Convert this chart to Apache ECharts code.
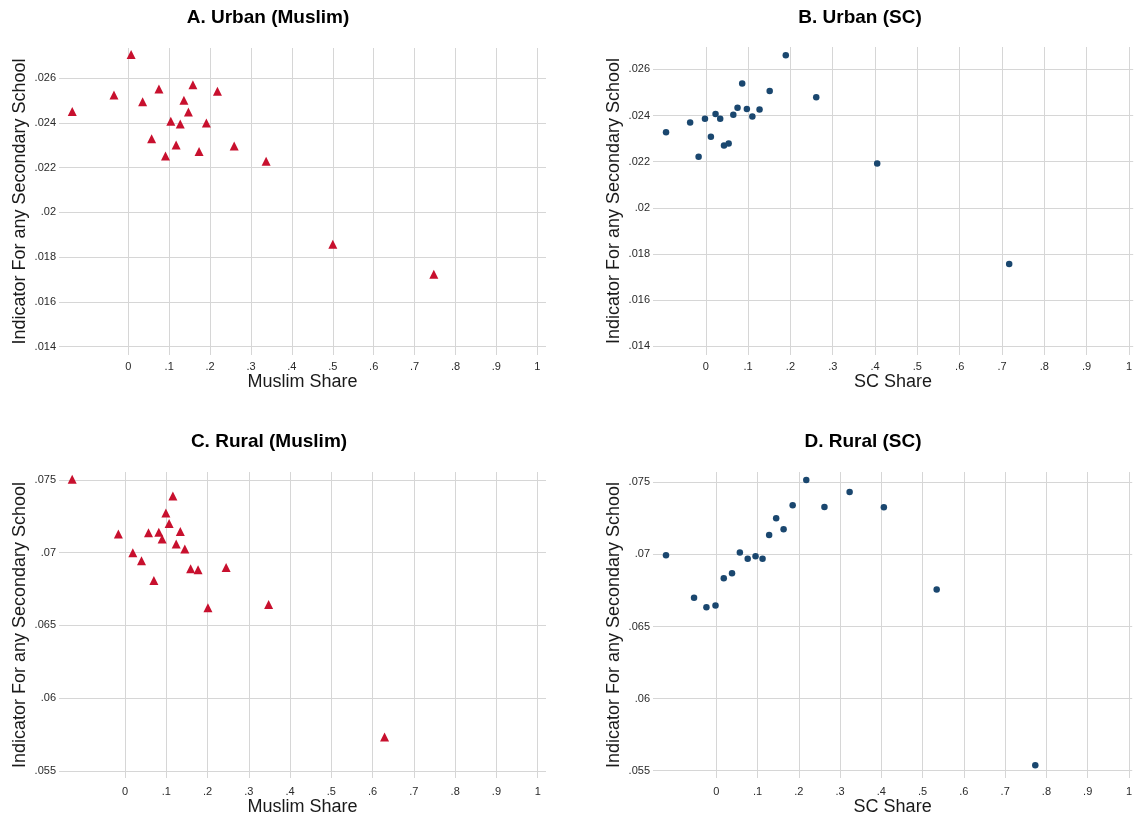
<!DOCTYPE html>
<html>
<head>
<meta charset="utf-8">
<title>Secondary school indicator vs. community share</title>
<script src="https://cdn.jsdelivr.net/npm/echarts@6/dist/echarts.min.js"></script>
<style>
  html, body { margin: 0; padding: 0; background: #fff; }
  #chart { width: 1135px; height: 820px; }
</style>
</head>
<body>
<div id="chart"></div>
<script>
// Binned scatter data: [share, indicator] pairs for each panel
const urbanMuslim = [
  [-0.137, 0.02451], [-0.035, 0.02525], [0.007, 0.02706], [0.035, 0.02495],
  [0.057, 0.02330], [0.075, 0.02552], [0.091, 0.02252], [0.104, 0.02408],
  [0.117, 0.02302], [0.127, 0.02396], [0.136, 0.02502], [0.147, 0.02449],
  [0.158, 0.02571], [0.173, 0.02272], [0.191, 0.02400], [0.218, 0.02542],
  [0.259, 0.02297], [0.337, 0.02229], [0.500, 0.01857], [0.747, 0.01723]
];
const urbanSC = [
  [-0.094, 0.02327], [-0.037, 0.02370], [-0.017, 0.02221], [-0.002, 0.02386],
  [0.012, 0.02308], [0.023, 0.02406], [0.034, 0.02386], [0.043, 0.02270],
  [0.054, 0.02279], [0.065, 0.02403], [0.075, 0.02433], [0.086, 0.02539],
  [0.097, 0.02428], [0.110, 0.02396], [0.127, 0.02426], [0.151, 0.02506],
  [0.189, 0.02661], [0.261, 0.02479], [0.405, 0.02192], [0.717, 0.01757]
];
const ruralMuslim = [
  [-0.128, 0.07505], [-0.016, 0.07129], [0.019, 0.07000], [0.040, 0.06944],
  [0.057, 0.07138], [0.070, 0.06809], [0.082, 0.07141], [0.090, 0.07095],
  [0.099, 0.07273], [0.107, 0.07200], [0.116, 0.07390], [0.124, 0.07060],
  [0.134, 0.07145], [0.145, 0.07026], [0.159, 0.06889], [0.177, 0.06882],
  [0.201, 0.06621], [0.245, 0.06898], [0.348, 0.06644], [0.629, 0.05733]
];
const ruralSC = [
  [-0.122, 0.06994], [-0.054, 0.06699], [-0.024, 0.06634], [-0.002, 0.06646],
  [0.018, 0.06835], [0.038, 0.06870], [0.057, 0.07013], [0.076, 0.06969],
  [0.095, 0.06988], [0.112, 0.06969], [0.128, 0.07135], [0.145, 0.07251],
  [0.163, 0.07174], [0.185, 0.07341], [0.218, 0.07516], [0.262, 0.07329],
  [0.323, 0.07433], [0.406, 0.07327], [0.534, 0.06756], [0.773, 0.05537]
];

// Tick labels
const shareTicks = [0, 0.1, 0.2, 0.3, 0.4, 0.5, 0.6, 0.7, 0.8, 0.9, 1];
const urbanTicks = [0.014, 0.016, 0.018, 0.020, 0.022, 0.024, 0.026];
const ruralTicks = [0.055, 0.060, 0.065, 0.070, 0.075];

const panelTitles = ['A. Urban (Muslim)', 'B. Urban (SC)', 'C. Rural (Muslim)', 'D. Rural (SC)'];
const xTitles = ['Muslim Share', 'SC Share', 'Muslim Share', 'SC Share'];
const yTitle = 'Indicator For any Secondary School';

const FONT = '"Liberation Sans", Arial, Helvetica, sans-serif';
const RED = '#c8102e';
const NAVY = '#1a476f';
const GRID_COLOR = '#d6d6d6';

// Stata-style numbers: drop the leading zero
function fmt(v) {
  let s = String(+(+v).toFixed(4));
  return s.replace(/^0\./, '.').replace(/^-0\./, '-.');
}

// Plot regions and axis extents for the four panels
const grids = [
  { left: 59,  top: 48,  width: 487, height: 307 },
  { left: 653, top: 47,  width: 482, height: 308 },
  { left: 59,  top: 472, width: 487, height: 306 },
  { left: 653, top: 472, width: 482, height: 306 }
];
const xRanges = [[-0.1694, 1.0213], [-0.1248, 1.0101], [-0.1599, 1.0201], [-0.1535, 1.0080]];
const yRanges = [[0.01362, 0.027356], [0.01363, 0.026965], [0.054505, 0.07555], [0.054494, 0.075714]];
const yTickSets = [urbanTicks, urbanTicks, ruralTicks, ruralTicks];
const seriesData = [urbanMuslim, urbanSC, ruralMuslim, ruralSC];
const titleCenters = [[263, 3], [855, 3], [264, 427], [858, 427]];

const xAxes = grids.map((g, i) => ({
  type: 'value',
  gridIndex: i,
  min: xRanges[i][0],
  max: xRanges[i][1],
  name: xTitles[i],
  nameLocation: 'middle',
  nameGap: i < 2 ? 17 : 16,
  nameTextStyle: { fontFamily: FONT, fontSize: 18, color: '#1a1a1a' },
  axisLine: { show: false },
  axisTick: { show: false, customValues: shareTicks },
  axisLabel: {
    customValues: shareTicks,
    formatter: fmt,
    fontFamily: FONT, fontSize: 11, color: '#2a2a2a', margin: i < 2 ? 6 : 8
  },
  splitLine: { show: true, lineStyle: { color: GRID_COLOR, width: 1 } }
}));

const yAxes = grids.map((g, i) => ({
  type: 'value',
  gridIndex: i,
  min: yRanges[i][0],
  max: yRanges[i][1],
  name: yTitle,
  nameLocation: 'middle',
  nameGap: 30,
  nameTextStyle: { fontFamily: FONT, fontSize: 18, color: '#1a1a1a' },
  axisLine: { show: false },
  axisTick: { show: false, customValues: yTickSets[i] },
  axisLabel: {
    customValues: yTickSets[i],
    formatter: fmt,
    fontFamily: FONT, fontSize: 11, color: '#2a2a2a', margin: 3
  },
  splitLine: { show: true, lineStyle: { color: GRID_COLOR, width: 1 } }
}));

const series = seriesData.map((d, i) => {
  const muslim = i % 2 === 0;
  return {
    type: 'scatter',
    xAxisIndex: i,
    yAxisIndex: i,
    data: d,
    symbol: muslim ? 'triangle' : 'circle',
    symbolSize: muslim ? 9 : 6.5,
    itemStyle: { color: muslim ? RED : NAVY, opacity: 1 },
    silent: true
  };
});

const chart = echarts.init(document.getElementById('chart'), null, { renderer: 'canvas' });
chart.setOption({
  backgroundColor: '#ffffff',
  animation: false,
  title: panelTitles.map((t, i) => ({
    text: t,
    left: titleCenters[i][0],
    top: titleCenters[i][1],
    textAlign: 'center',
    textStyle: { fontFamily: FONT, fontSize: 19, fontWeight: 'bold', color: '#000' }
  })),
  grid: grids.map(g => Object.assign({ containLabel: false }, g)),
  xAxis: xAxes,
  yAxis: yAxes,
  series: series
});
</script>
</body>
</html>
